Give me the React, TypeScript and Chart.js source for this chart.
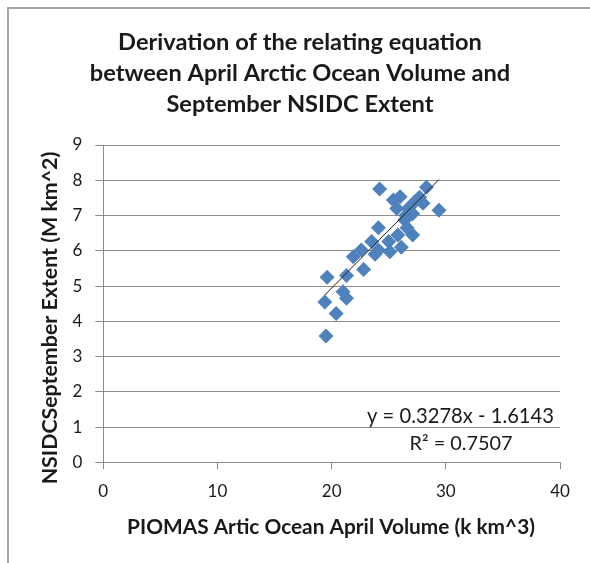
import React, { useEffect, useRef } from "react";
import { Chart, registerables } from "chart.js";

Chart.register(...registerables);

// ---- data ----
const volume = [
  24.2, 28.3, 29.4, 25.4, 26.0, 27.3, 27.7, 25.7, 26.7, 27.1, 24.1, 26.4, 25.8, 27.1, 26.6, 26.1, 25.0,
  23.5, 24.1, 25.1, 22.6, 21.9, 22.8, 21.3, 19.6, 21.0, 21.3, 19.4, 20.4, 19.5, 28.0, 26.5, 23.8,
];
const extent = [
  7.75, 7.8, 7.15, 7.44, 7.53, 7.4, 7.52, 7.2, 7.2, 7.05, 6.65, 6.87, 6.45, 6.45, 6.65, 6.1, 6.26,
  6.26, 6.02, 5.97, 6.02, 5.83, 5.47, 5.3, 5.25, 4.84, 4.65, 4.55, 4.22, 3.58, 7.35, 7.0, 5.9,
];
const slope = 0.3278;
const intercept = -1.6143;
const rSquared = 0.7507;
const trendRange = [19.4, 29.4];

const titleLines = [
  "Derivation of the relating equation",
  "between April Arctic Ocean Volume and",
  "September NSIDC Extent",
];
const xTitle = "PIOMAS Artic Ocean April Volume (k km^3)";
const yTitle = "NSIDCSeptember Extent (M km^2)";
const equationText = `y = ${slope}x - ${Math.abs(intercept)}`;
const r2Text = `R\u00B2 = ${rSquared}`;

const FONT = "Lato, 'Open Sans', sans-serif";
const GRID = "#8c8c8c";
const TEXT = "#1a1a1a";

function fitText(ctx: CanvasRenderingContext2D, text: string, weight: string, target: number) {
  ctx.font = `${weight} 20px ${FONT}`;
  const w = ctx.measureText(text).width;
  const size = (20 * target) / w;
  ctx.font = `${weight} ${size}px ${FONT}`;
}

const textPlugin = {
  id: "textPlugin",
  afterDraw(chart: any) {
    const ctx: CanvasRenderingContext2D = chart.ctx;
    ctx.save();
    ctx.fillStyle = TEXT;
    ctx.textBaseline = "middle";
    ctx.textAlign = "center";
    // title
    fitText(ctx, titleLines[0], "bold", 364);
    const titleY = [42, 73, 104];
    titleLines.forEach((t, i) => ctx.fillText(t, 300, titleY[i]));
    // x title
    fitText(ctx, xTitle, "bold", 408);
    ctx.fillText(xTitle, 331, 527);
    // y title
    ctx.save();
    ctx.translate(50, 318);
    ctx.rotate(-Math.PI / 2);
    fitText(ctx, yTitle, "bold", 333);
    ctx.fillText(yTitle, 0, 0);
    ctx.restore();
    // equation
    ctx.textAlign = "right";
    fitText(ctx, equationText, "normal", 187);
    ctx.fillText(equationText, 554, 416);
    ctx.textAlign = "center";
    fitText(ctx, r2Text, "normal", 103);
    ctx.fillText(r2Text, 461, 444);
    ctx.restore();
  },
};

export default function App() {
  const ref = useRef<HTMLCanvasElement | null>(null);

  useEffect(() => {
    if (!ref.current) return;
    const points = volume.map((v, i) => ({ x: v, y: extent[i] }));
    const trend = trendRange.map((x) => ({ x, y: slope * x + intercept }));
    const chart = new Chart(ref.current, {
      type: "scatter",
      data: {
        datasets: [
          {
            type: "line",
            data: trend,
            borderColor: "#202020",
            borderWidth: 1,
            pointRadius: 0,
            showLine: true,
          } as any,
          {
            data: points,
            pointStyle: "rectRot",
            pointRadius: 7.5,
            backgroundColor: "#4F81BD",
            borderColor: "#4F81BD",
            borderWidth: 0,
          },
        ],
      },
      options: {
        animation: false,
        responsive: false,
        devicePixelRatio: 1,
        layout: { padding: { top: 145, right: 30, left: 0, bottom: 0 } },
        plugins: { legend: { display: false }, tooltip: { enabled: false }, title: { display: false } },
        scales: {
          x: {
            type: "linear",
            min: 0,
            max: 40,
            ticks: { stepSize: 10, color: TEXT, font: { family: FONT, size: 17 }, padding: 12 },
            grid: { drawOnChartArea: false, drawTicks: true, tickLength: 7, color: GRID },
            border: { color: GRID, width: 1 },
            afterFit: (s: any) => {
              s.height = 100.7;
            },
          },
          y: {
            min: 0,
            max: 9,
            ticks: { stepSize: 1, color: TEXT, font: { family: FONT, size: 17 }, padding: 13 },
            grid: { color: GRID, tickLength: 8 },
            border: { color: GRID, width: 1 },
            afterFit: (s: any) => {
              s.width = 103.3;
            },
          },
        },
      },
      plugins: [textPlugin],
    });
    return () => chart.destroy();
  }, []);

  return (
    <div style={{ position: "absolute", left: 0, top: 0, width: 590, height: 563, overflow: "hidden", background: "#fff" }}>
      <canvas ref={ref} width={590} height={563} style={{ position: "absolute", left: 0, top: 0 }} />
      <div
        style={{
          position: "absolute",
          left: 7,
          top: 7,
          width: 583,
          height: 556,
          boxSizing: "border-box",
          borderLeft: "2px solid #a6a6a6",
          borderTop: "2px solid #a6a6a6",
          pointerEvents: "none",
        }}
      />
    </div>
  );
}
